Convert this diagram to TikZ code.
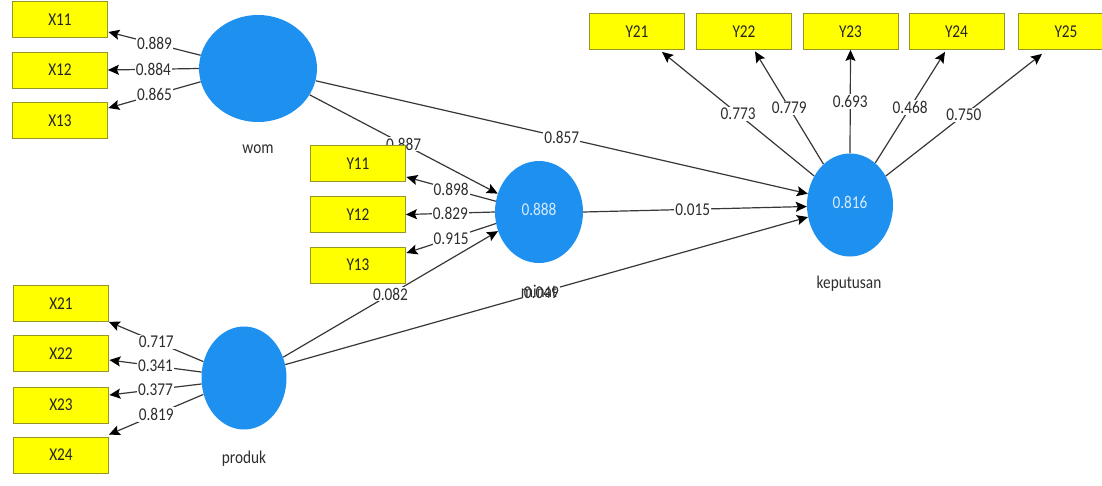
\documentclass[tikz,border=0pt]{standalone}
\usepackage{fontspec}
\setmainfont[FakeStretch=0.85]{Carlito}
\usetikzlibrary{shapes.geometric,arrows.meta,calc,backgrounds}
\definecolor{lvblue}{RGB}{30,144,240}
\definecolor{lvtext}{RGB}{215,235,255}
\definecolor{mvyellow}{RGB}{255,255,0}
\definecolor{mvborder}{RGB}{150,150,40}
\definecolor{linecol}{RGB}{55,55,55}
\definecolor{textcol}{RGB}{45,45,45}
\begin{document}
\begin{tikzpicture}[x=1pt,y=-1pt,
  txt/.style={font=\fontsize{18}{21}\selectfont},
  mv/.style={txt,draw=mvborder,line width=0.8pt,fill=mvyellow,minimum width=95pt,minimum height=36pt,inner sep=0pt,text=black!85},
  lv/.style={txt,ellipse,fill=lvblue,inner sep=0pt,text=lvtext},
  lvcap/.style={txt,text=textcol,inner sep=0pt},
  lnk/.style={draw=linecol,line width=1.2pt,-{Stealth[length=11pt,width=10pt,inset=2pt,color=black]}},
  val/.style={txt,fill=white,inner sep=1pt,text=textcol}]
\useasboundingbox (0,0) rectangle (1102,485);
% indicator boxes
\node[mv] (X11) at (60,19.5) {X11};
\node[mv] (X12) at (60,70) {X12};
\node[mv] (X13) at (60,120.5) {X13};
\node[mv] (Y11) at (358,163.5) {Y11};
\node[mv] (Y12) at (358,214.5) {Y12};
\node[mv] (Y13) at (358,265) {Y13};
\node[mv] (X21) at (61,303.5) {X21};
\node[mv] (X22) at (61,353.5) {X22};
\node[mv] (X23) at (61,405) {X23};
\node[mv] (X24) at (61,455) {X24};
\node[mv] (Y21) at (637,31.5) {Y21};
\node[mv] (Y22) at (744,31.5) {Y22};
\node[mv] (Y23) at (850.5,31.5) {Y23};
\node[mv] (Y24) at (956.5,31.5) {Y24};
\node[mv] (Y25) at (1066,31.5) {Y25};
% latent variables
\node[lv,minimum width=118pt,minimum height=107pt] (wom) at (258,68.5) {};
\node[lv,minimum width=88pt,minimum height=102pt] (minat) at (539,212) {\raisebox{5pt}{0.888}};
\node[lv,minimum width=85pt,minimum height=103pt] (produk) at (244,378) {};
\node[lv,minimum width=86pt,minimum height=103pt] (kep) at (850,205) {\raisebox{5pt}{0.816}};
% connectors
\begin{scope}[on background layer]
\draw[lnk] (wom.167) -- node[val]{0.889} ($(X11.east)+(0.5,12.5)$);
\draw[lnk] (wom.180) -- node[val]{0.884} (X12.east);
\draw[lnk] (wom.193) -- node[val]{0.865} ($(X13.east)+(0.5,-12.5)$);
\draw[lnk] (wom.-27) -- node[val]{0.887} (minat.156);
\draw[lnk] (wom.-12) -- node[val]{0.857} (kep.165);
\draw[lnk] (minat.166) -- node[val]{0.898} ($(Y11.east)+(0.5,13.5)$);
\draw[lnk] (minat.180) -- node[val]{0.829} (Y12.east);
\draw[lnk] (minat.195) -- node[val]{0.915} ($(Y13.east)+(0.5,-12)$);
\draw[lnk] (produk.28) -- node[val]{0.082} (minat.205);
\draw[lnk] (produk.18) -- node[val,pos=0.49]{0.049} (kep.196);
\draw[lnk] (minat.0) -- node[val,pos=0.49]{0.015} (kep.182);
\draw[lnk] (produk.158) -- node[val]{0.717} (X21.south east);
\draw[lnk] (produk.172) -- node[val]{0.341} ($(X22.east)+(0.5,6.5)$);
\draw[lnk] (produk.188) -- node[val]{0.377} ($(X23.east)+(0.5,-10)$);
\draw[lnk] (produk.202) -- node[val]{0.819} ($(X24.north east)+(0,-2)$);
\draw[lnk] (kep.141) -- node[val]{0.773} ($(Y21.south)+(25,2)$);
\draw[lnk] (kep.123) -- node[val]{0.779} ($(Y22.south)+(11,1.5)$);
\draw[lnk] (kep.90) -- node[val]{0.693} (Y23.south);
\draw[lnk] (kep.59) -- node[val]{0.468} ($(Y24.south)+(-11.5,2)$);
\draw[lnk] (kep.39) -- node[val]{0.750} ($(Y25.south)+(-24,4)$);
\end{scope}
% captions
\node[lvcap] (womlab) at (258,149) {wom};
\node[lvcap] (minlab) at (539,291) {minat};
\node[lvcap] (prodlab) at (244,459) {produk};
\node[lvcap] (keplab) at (849,284) {keputusan};
\end{tikzpicture}
\end{document}
